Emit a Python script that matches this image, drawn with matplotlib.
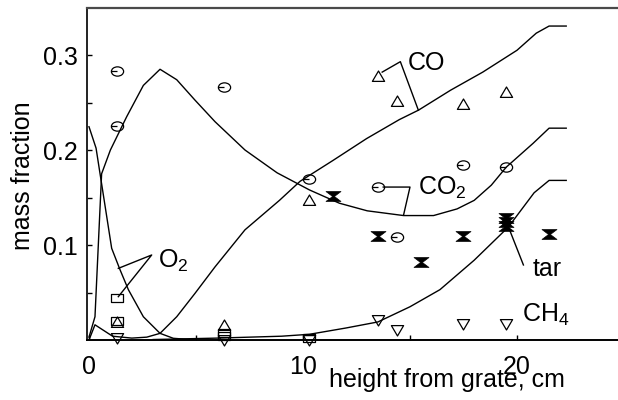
import numpy as np
import matplotlib
matplotlib.use("Agg")
import matplotlib.pyplot as plt
from matplotlib.path import Path
from matplotlib.ticker import FixedLocator, NullFormatter, FuncFormatter

plt.rcParams['font.family'] = ['Liberation Sans', 'DejaVu Sans']
plt.rcParams['mathtext.fontset'] = 'custom'
plt.rcParams['mathtext.rm'] = 'Liberation Sans'
plt.rcParams['mathtext.it'] = 'Liberation Sans:italic'
plt.rcParams['mathtext.default'] = 'rm'

# ---------------- data ----------------
# model curves
o2_x = [0, 0.33, 1.06, 1.45, 1.84, 2.54, 3.32, 3.94, 5.0]
o2_y = [0.2245, 0.202, 0.0965, 0.074, 0.053, 0.0245, 0.007, 0.0018, 0.0]

co2_x = [0, 0.28, 0.59, 1.0, 1.76, 2.54, 3.32, 4.1, 4.95, 5.89, 7.29, 8.79,
         10.3, 11.7, 13.0, 14.7, 16.1, 17.2, 18.0, 18.8, 19.5, 20.75, 21.5, 22.3]
co2_y = [0.003, 0.0245, 0.175, 0.2, 0.235, 0.268, 0.285, 0.274, 0.2526, 0.2298, 0.2, 0.176,
         0.158, 0.144, 0.136, 0.131, 0.131, 0.138, 0.147, 0.163, 0.182, 0.207, 0.223, 0.223]

co_x = [0, 0.28, 1.1, 2.0, 2.7, 3.32, 4.1, 4.95, 5.89, 7.29, 8.9, 9.86, 11.4,
        12.97, 14.5, 15.4, 16.9, 18.4, 20.0, 20.9, 21.5, 22.3]
co_y = [0.0, 0.016, 0.004, 0.002, 0.003, 0.007, 0.0245, 0.049, 0.077, 0.116, 0.147, 0.167, 0.189,
        0.212, 0.232, 0.242, 0.263, 0.282, 0.305, 0.323, 0.3305, 0.3305]

tar_x = [3.0, 6.0, 9.0, 10.3, 12.0, 13.5, 15.0, 16.4, 18.0, 19.6, 20.8, 21.5, 22.3]
tar_y = [0.0005, 0.002, 0.004, 0.006, 0.0126, 0.019, 0.035, 0.053, 0.084, 0.119, 0.155, 0.168, 0.168]

# measured points
co_pts_x = [1.3, 6.3, 10.3, 13.5, 14.4, 17.5, 19.5]
co_pts_y = [0.019, 0.016, 0.147, 0.278, 0.252, 0.248, 0.261]

co2_pts_x = [1.3, 1.3, 6.3, 10.3, 13.5, 14.4, 17.5, 19.5]
co2_pts_y = [0.283, 0.225, 0.266, 0.170, 0.161, 0.108, 0.184, 0.182]

o2_pts_x = [1.3, 1.3, 6.3, 6.3, 10.3]
o2_pts_y = [0.044, 0.020, 0.007, 0.004, 0.002]

ch4_pts_x = [1.3, 6.3, 10.3, 13.5, 14.4, 17.5, 19.5]
ch4_pts_y = [0.002, 0.0, 0.0, 0.021, 0.011, 0.017, 0.017]

tar_pts_x = [11.4, 13.5, 15.5, 17.5, 19.5, 19.5, 19.5, 21.5]
tar_pts_y = [0.152, 0.109, 0.082, 0.109, 0.128, 0.124, 0.120, 0.112]

x_major = [0, 10, 20]
x_minor = [5, 15]
y_major = [0.1, 0.2, 0.3]
y_minor = [0.05, 0.15, 0.25]

# ---------------- markers ----------------
tri_up = Path([(-0.5, -0.4), (0.5, -0.4), (0, 0.45), (-0.5, -0.4)],
              [Path.MOVETO, Path.LINETO, Path.LINETO, Path.CLOSEPOLY])
tri_dn = Path([(-0.5, 0.4), (0.5, 0.4), (0, -0.45), (-0.5, 0.4)],
              [Path.MOVETO, Path.LINETO, Path.LINETO, Path.CLOSEPOLY])
sq = Path([(-0.5, -0.36), (0.5, -0.36), (0.5, 0.36), (-0.5, 0.36), (-0.5, -0.36)],
          [Path.MOVETO, Path.LINETO, Path.LINETO, Path.LINETO, Path.CLOSEPOLY])
circ = Path.unit_circle()
ell = Path(circ.vertices * np.array([0.5, 0.38]), circ.codes)
dash = Path([(-0.5, 0.0), (0.0, 0.0)], [Path.MOVETO, Path.LINETO])
theta = Path.make_compound_path(ell, dash)
hour = Path([(-0.5, 0.33), (0.5, 0.33), (0.06, 0.0), (0.5, -0.33), (-0.5, -0.33), (-0.06, 0.0), (-0.5, 0.33)],
            [Path.MOVETO, Path.LINETO, Path.LINETO, Path.LINETO, Path.LINETO, Path.LINETO, Path.CLOSEPOLY])

# ---------------- figure ----------------
fig = plt.figure(figsize=(6.18, 4.0), dpi=100)
ax = fig.add_axes([87/618, 60/400, (618-87)/618, 332/400])
ax.set_xlim(-0.093, 24.72)
ax.set_ylim(0, 0.3495)

lw = 1.0
for xs, ys in [(o2_x, o2_y), (co2_x, co2_y), (co_x, co_y), (tar_x, tar_y)]:
    ax.plot(xs, ys, color='black', lw=lw, solid_joinstyle='round')

mkw = dict(linestyle='none', markerfacecolor='none', markeredgecolor='black',
           markeredgewidth=0.9, clip_on=False, zorder=3)
ax.plot(co_pts_x, co_pts_y, marker=tri_up, markersize=8.8, **mkw)
ax.plot(ch4_pts_x, ch4_pts_y, marker=tri_dn, markersize=8.8, **mkw)
ax.plot(o2_pts_x, o2_pts_y, marker=sq, markersize=8.8, **mkw)
ax.plot(co2_pts_x, co2_pts_y, marker=theta, markersize=8.8, **mkw)
ax.plot(tar_pts_x, tar_pts_y, linestyle='none', marker=hour, markersize=10.8,
        markerfacecolor='black', markeredgecolor='black', markeredgewidth=0.5,
        clip_on=False, zorder=3)

# annotation pointers and labels
fs = 18
ax.plot([13.7, 14.55, 15.39], [0.282, 0.293, 0.242], color='black', lw=1.0)
ax.text(14.9, 0.284, 'CO', fontsize=fs, ha='left', va='baseline')

ax.plot([13.75, 15.0, 14.7], [0.161, 0.161, 0.1316], color='black', lw=1.0)
ax.text(15.37, 0.1526, 'CO$_2$', fontsize=fs, ha='left', va='baseline')

ax.plot([1.37, 2.93, 1.37], [0.0754, 0.0895, 0.0456], color='black', lw=1.0)
ax.text(3.24, 0.076, 'O$_2$', fontsize=fs, ha='left', va='baseline')

ax.plot([19.6, 20.3], [0.119, 0.079], color='black', lw=1.0)
ax.text(20.75, 0.067, 'tar', fontsize=fs, ha='left', va='baseline')

ax.text(20.23, 0.0193, 'CH$_4$', fontsize=fs, ha='left', va='baseline')

# axes styling
ax.spines['right'].set_visible(False)
ax.spines['top'].set_color('#4a4a4a')
ax.spines['top'].set_linewidth(1.6)
ax.spines['left'].set_color('#222222')
ax.spines['left'].set_linewidth(1.4)
ax.spines['bottom'].set_color('black')
ax.spines['bottom'].set_linewidth(1.4)

ax.xaxis.set_major_locator(FixedLocator(x_major))
ax.xaxis.set_minor_locator(FixedLocator(x_minor))
ax.yaxis.set_major_locator(FixedLocator(y_major))
ax.yaxis.set_minor_locator(FixedLocator(y_minor))
ax.xaxis.set_major_formatter(FuncFormatter(lambda v, p: f"{v:g}"))
ax.yaxis.set_major_formatter(FuncFormatter(lambda v, p: f"{v:.1f}"))
ax.xaxis.set_minor_formatter(NullFormatter())
ax.yaxis.set_minor_formatter(NullFormatter())

ax.tick_params(axis='both', which='both', direction='in', length=3.6, width=1.0,
               color='black', top=False, right=False)
ax.tick_params(axis='x', which='major', labelsize=fs, pad=10.5)
ax.tick_params(axis='y', which='major', labelsize=fs, pad=6.5)

fig.text(23/618, 1 - 176/400, 'mass fraction', rotation=90, fontsize=fs,
         ha='center', va='center')
fig.text(447/618, 1 - 387/400, 'height from grate, cm', fontsize=fs,
         ha='center', va='baseline')

fig.savefig('out.png', dpi=100)
